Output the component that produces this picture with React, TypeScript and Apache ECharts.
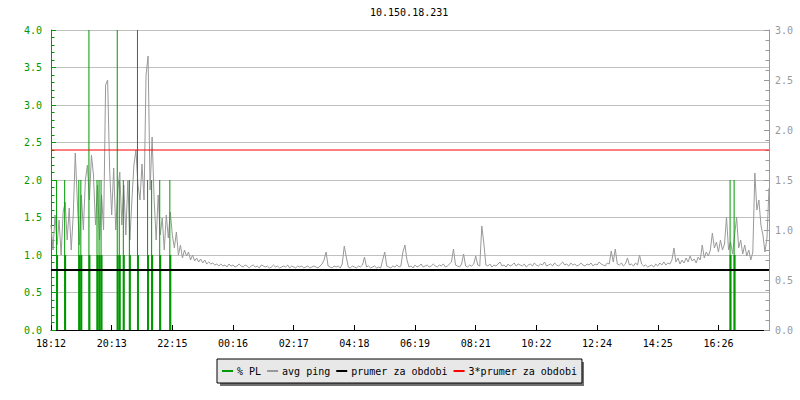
import React, { useEffect, useRef } from "react";
import * as echarts from "echarts";

const title = "10.150.18.231";
const tickLabels = ["18:12", "20:13", "22:15", "00:16", "02:17", "04:18", "06:19", "08:21", "10:22", "12:24", "14:25", "16:26"];
const tickEvery = 30;

// avg ping samples (right axis units)
const pingValues = [
  1.05, 0.80, 1.15, 0.85, 1.10, 0.75, 1.18, 1.28, 0.90, 1.22,
  0.80, 1.15, 1.77, 1.30, 0.85, 1.35, 1.00, 1.50, 1.65, 1.30,
  1.75, 1.55, 1.05, 1.45, 0.90, 1.35, 1.00, 2.45, 2.50, 1.60,
  1.15, 1.62, 1.00, 1.40, 1.58, 1.05, 1.45, 0.95, 1.50, 0.90,
  1.30, 1.65, 1.80, 1.45, 1.30, 1.66, 1.30, 2.55, 2.74, 1.40,
  1.93, 1.30, 0.90, 1.35, 0.95, 1.12, 0.80, 1.15, 0.92, 1.18,
  0.95, 0.82, 0.98, 0.75, 0.85, 0.72, 0.80, 0.74, 0.78, 0.70,
  0.75, 0.69, 0.72, 0.68, 0.71, 0.67, 0.70, 0.66, 0.68, 0.66,
  0.67, 0.65, 0.66, 0.64, 0.66, 0.64,
  0.65, 0.63, 0.66, 0.64, 0.65, 0.63, 0.64, 0.66, 0.64, 0.63,
  0.65, 0.64, 0.62, 0.64, 0.65, 0.63, 0.64, 0.62, 0.65, 0.64,
  0.63, 0.64, 0.62, 0.63, 0.65, 0.63, 0.64, 0.62, 0.63, 0.64,
  0.63, 0.65, 0.62, 0.64, 0.63, 0.62, 0.64, 0.63, 0.64, 0.62,
  0.63, 0.64, 0.62, 0.63, 0.64, 0.63, 0.62, 0.64, 0.66, 0.70,
  0.78, 0.64, 0.63, 0.62, 0.64, 0.63, 0.64, 0.62, 0.66, 0.84,
  0.73, 0.63, 0.62, 0.64, 0.63, 0.62, 0.64, 0.63, 0.65, 0.73,
  0.63, 0.64, 0.62, 0.63, 0.64, 0.62, 0.63, 0.62, 0.70, 0.78,
  0.64, 0.63, 0.62, 0.64, 0.63, 0.65, 0.63, 0.64, 0.78, 0.85,
  0.70, 0.63, 0.64, 0.62, 0.65, 0.63, 0.64, 0.66, 0.63, 0.64,
  0.65, 0.63, 0.64, 0.66, 0.64, 0.63, 0.65, 0.64, 0.66, 0.63,
  0.64, 0.66, 0.68, 0.81, 0.65, 0.64, 0.63, 0.66, 0.76, 0.64,
  0.63, 0.65, 0.64, 0.66, 0.74, 0.65, 0.64, 1.04, 0.87, 0.65,
  0.64, 0.66, 0.63, 0.65, 0.64, 0.66, 0.68, 0.64, 0.65, 0.63,
  0.66, 0.64, 0.65, 0.67, 0.64, 0.66, 0.65, 0.64, 0.66, 0.63,
  0.65, 0.66, 0.64, 0.67, 0.65, 0.64, 0.66, 0.65, 0.68, 0.64,
  0.65, 0.66, 0.64, 0.67, 0.65, 0.64, 0.66, 0.68, 0.65, 0.66,
  0.64, 0.67, 0.65, 0.66, 0.64, 0.65, 0.67, 0.65, 0.64, 0.66,
  0.65, 0.67, 0.64, 0.66, 0.65, 0.68, 0.66, 0.65, 0.64, 0.67,
  0.66, 0.79, 0.68, 0.81, 0.66, 0.65, 0.67, 0.64, 0.66, 0.72,
  0.65, 0.66, 0.64, 0.67, 0.65, 0.75, 0.66, 0.64, 0.65, 0.63,
  0.64, 0.65, 0.63, 0.66, 0.64, 0.67, 0.65, 0.68, 0.65, 0.67,
  0.66, 0.70, 0.82, 0.68, 0.72, 0.66, 0.70, 0.67, 0.72, 0.68,
  0.74, 0.69, 0.71, 0.67, 0.73, 0.70, 0.85, 0.72, 0.78, 0.74,
  0.80, 0.97, 0.82, 0.88, 0.78, 0.90, 0.80, 0.86, 1.13, 0.80,
  0.88, 0.76, 0.95, 1.13, 0.82, 0.90, 0.76, 0.85, 0.74, 0.80,
  0.70, 0.78, 1.57, 1.20, 1.30, 1.05, 0.95, 0.78, 0.92, 1.42,
];

// % PL events (sample index, peak value, base value)
const plIndex = [3, 7, 14, 15, 19, 23, 24, 25, 33, 34, 36, 39, 43, 48, 50, 54, 59, 336, 338];
const plPeak = [2, 2, 2, 2, 4, 2, 2, 2, 4, 2, 2, 2, 4, 2, 2, 2, 2, 2, 2];
const plBase = [1, 1, 1, 1, 1, 1, 1, 1, 1, 1, 1, 1, 1, 1, 1, 1, 1, 1, 1];

const meanValue = 0.6;
const tripleMeanValue = 1.8;

const GREEN = "#009900";
const GRAY = "#999999";
const FONT = "DejaVu Sans Mono";

export default function App() {
  const ref = useRef<HTMLDivElement>(null);
  useEffect(() => {
    if (!ref.current) return;
    const chart = echarts.init(ref.current, null, { renderer: "svg" });
    const n = pingValues.length;
    const categories = pingValues.map((_, i) => String(i));
    const last = n - 1;
    chart.setOption({
      animation: false,
      backgroundColor: "#ffffff",
      title: {
        text: title,
        left: 370,
        top: 7,
        padding: 0,
        textStyle: { fontFamily: FONT, fontSize: 10, fontWeight: "normal", color: "#000" },
      },
      graphic: [
        { type: "rect", z: 0, shape: { x: 220, y: 362, width: 364, height: 24 }, style: { fill: "#707070" } },
      ],
      legend: {
        left: 217,
        top: 359,
        padding: [6, 5, 6, 5],
        itemGap: 6,
        itemWidth: 11,
        itemHeight: 2,
        icon: "rect",
        backgroundColor: "#e8e8e8",
        borderColor: "#000",
        borderWidth: 1,
        borderRadius: 0,
        z: 10,
        selectedMode: false,
        data: ["% PL", "avg ping", "prumer za obdobi", "3*prumer za obdobi"],
        textStyle: { fontFamily: FONT, fontSize: 10, color: "#000", lineHeight: 12, padding: [0, 0, 0, -1] },
      },
      grid: { left: 51, right: 31, top: 30, height: 300 },
      xAxis: {
        type: "category",
        data: categories,
        boundaryGap: false,
        axisLine: { lineStyle: { color: "#000", width: 1 } },
        axisTick: { inside: true, length: 5, interval: tickEvery - 1, lineStyle: { color: "#000" } },
        axisLabel: {
          interval: tickEvery - 1,
          margin: 8,
          fontFamily: FONT,
          fontSize: 10,
          color: "#000",
          formatter: (_v: string, idx: number) => (idx % tickEvery === 0 ? tickLabels[idx / tickEvery] ?? "" : ""),
        },
        splitLine: { show: false },
      },
      yAxis: [
        {
          type: "value",
          min: 0,
          max: 4,
          interval: 0.5,
          position: "left",
          axisLine: { show: true, lineStyle: { color: GREEN } },
          axisTick: { show: true, inside: true, length: 5, lineStyle: { color: GREEN } },
          minorTick: { show: true, splitNumber: 5, length: 3.5, lineStyle: { color: GREEN } },
          axisLabel: { margin: 9, fontFamily: FONT, fontSize: 10, color: GREEN, formatter: (v: number) => v.toFixed(1) },
          splitLine: { show: true, lineStyle: { color: "#c0c0c0", width: 1 } },
        },
        {
          type: "value",
          min: 0,
          max: 3,
          interval: 0.5,
          position: "right",
          axisLine: { show: true, lineStyle: { color: GRAY } },
          axisTick: { show: true, inside: true, length: 5, lineStyle: { color: GRAY } },
          minorTick: { show: true, splitNumber: 5, length: 3.5, lineStyle: { color: GRAY } },
          axisLabel: { margin: 6, fontFamily: FONT, fontSize: 10, color: GRAY, formatter: (v: number) => v.toFixed(1) },
          splitLine: { show: false },
        },
      ],
      series: [
        {
          name: "avg ping",
          type: "line",
          yAxisIndex: 1,
          data: pingValues,
          showSymbol: false,
          symbol: "none",
          color: GRAY,
          lineStyle: { color: GRAY, width: 1 },
          z: 2,
        },
        {
          name: "% PL",
          type: "bar",
          yAxisIndex: 0,
          data: plIndex.map((i, k) => [i, plPeak[k]]),
          barWidth: 1,
          barGap: "-100%",
          color: GREEN,
          itemStyle: { color: GREEN },
          z: 3,
        },
        {
          name: "% PL",
          type: "bar",
          yAxisIndex: 0,
          data: plIndex.map((i, k) => [i, plBase[k]]),
          barWidth: 2,
          barGap: "-100%",
          color: GREEN,
          itemStyle: { color: GREEN },
          z: 3,
        },
        {
          name: "prumer za obdobi",
          type: "line",
          yAxisIndex: 1,
          data: [[0, meanValue], [last, meanValue]],
          showSymbol: false,
          symbol: "none",
          color: "#000",
          lineStyle: { color: "#000", width: 2 },
          z: 4,
        },
        {
          name: "3*prumer za obdobi",
          type: "line",
          yAxisIndex: 1,
          data: [[0, tripleMeanValue], [last, tripleMeanValue]],
          showSymbol: false,
          symbol: "none",
          color: "#ff0000",
          lineStyle: { color: "#ff0000", width: 1 },
          z: 4,
        },
      ],
    });
    return () => chart.dispose();
  }, []);
  return (
    <div
      ref={ref}
      style={{ position: "fixed", left: 0, top: 0, width: 800, height: 400, background: "#fff" }}
    />
  );
}
